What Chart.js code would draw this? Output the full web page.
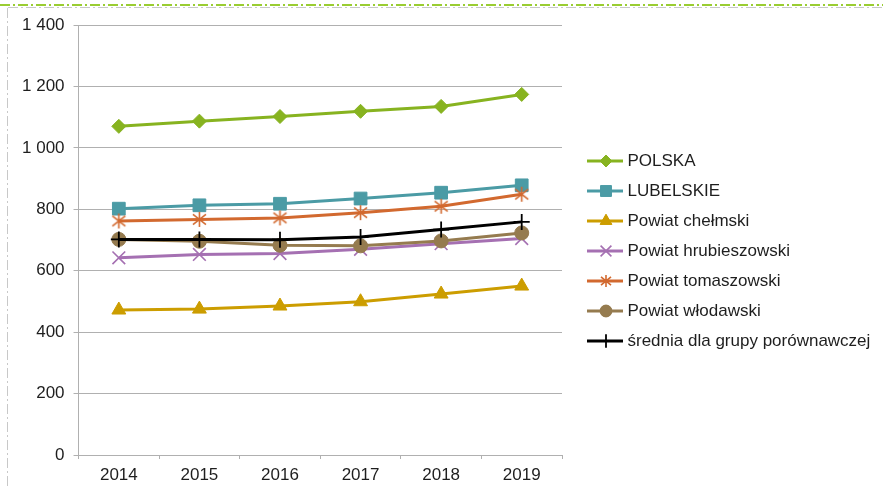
<!DOCTYPE html>
<html>
<head>
<meta charset="utf-8">
<script src="https://cdn.jsdelivr.net/npm/chart.js@4/dist/chart.umd.min.js"></script>
<style>
  html, body { margin: 0; padding: 0; background: #fff; }
  #wrap { width: 883px; height: 486px; position: relative; }
</style>
</head>
<body>
<div id="wrap"><canvas id="line_chart"></canvas></div>
<script>
const years = ["2014", "2015", "2016", "2017", "2018", "2019"];
const yTicks = [0, 200, 400, 600, 800, 1000, 1200, 1400];

const polska = [1070, 1087, 1102, 1119, 1135, 1174];
const lubelskie = [802, 813, 818, 835, 854, 878];
const chelmski = [472, 475, 485, 499, 524, 550];
const hrubieszowski = [642, 653, 656, 670, 688, 705];
const tomaszowski = [762, 767, 772, 789, 810, 849];
const wlodawski = [702, 696, 683, 681, 697, 723];
const srednia = [702, 702, 701, 710, 734, 759];

const textColor = "#1e1e1e";
const gridColor = "#b0b0b0";

// asterisk marker (X with a vertical bar), not available as a built-in style
function asterisk(color, size) {
  const c = document.createElement("canvas");
  c.width = size; c.height = size;
  const g = c.getContext("2d");
  const m = size / 2, e = size - 1;
  g.strokeStyle = color;
  g.lineWidth = 1.6;
  g.beginPath();
  g.moveTo(m, 1); g.lineTo(m, e);
  g.moveTo(2, size * 0.2); g.lineTo(e - 1, size * 0.8);
  g.moveTo(e - 1, size * 0.2); g.lineTo(2, size * 0.8);
  g.stroke();
  return c;
}

const series = [
  { label: "POLSKA", data: polska, color: "#87b320", style: "rectRot", r: 7, bw: 1 },
  { label: "LUBELSKIE", data: lubelskie, color: "#4b9ba5", style: "rect", r: 9, bw: 1 },
  { label: "Powiat chełmski", data: chelmski, color: "#cc9d00", style: "triangle", r: 8, bw: 1 },
  { label: "Powiat hrubieszowski", data: hrubieszowski, color: "#a570b2", style: "crossRot", r: 9, bw: 1.6 },
  { label: "Powiat tomaszowski", data: tomaszowski, color: "#d2692f", style: asterisk("#d2692f", 17), legendStyle: asterisk("#d2692f", 14), r: 8, bw: 1 },
  { label: "Powiat włodawski", data: wlodawski, color: "#957b4f", style: "circle", r: 7, bw: 1 },
  { label: "średnia dla grupy porównawczej", data: srednia, color: "#000000", style: "cross", r: 8, bw: 1.8 },
];

// legend swatch: short line with the marker on it
function swatch(s) {
  const c = document.createElement("canvas");
  c.width = 52; c.height = 18;
  const g = c.getContext("2d");
  g.strokeStyle = s.color;
  g.lineWidth = 3;
  g.beginPath();
  g.moveTo(16, 9); g.lineTo(52, 9);
  g.stroke();
  g.fillStyle = s.color;
  g.strokeStyle = s.color;
  g.lineWidth = s.bw;
  const style = s.legendStyle || s.style;
  Chart.helpers.drawPoint(g, { pointStyle: style, radius: s.r * 0.85, rotation: 0, borderWidth: s.bw }, 35, 9);
  if (typeof style === "string" && style !== "cross" && style !== "crossRot") g.fill();
  return c;
}

const frame = {
  id: "frame",
  afterLayout(chart) {
    // lift the legend block a little
    if (chart.legend) chart.legend.bottom -= 9;
  },
  beforeDraw(chart) {
    const ctx = chart.ctx;
    ctx.save();
    ctx.fillStyle = "#fff";
    ctx.fillRect(0, 0, chart.width, chart.height);
    ctx.setLineDash([10, 3, 2, 3]);
    ctx.strokeStyle = "#c8c8c8";
    ctx.lineWidth = 1;
    ctx.beginPath();
    ctx.moveTo(8, 7.5); ctx.lineTo(chart.width, 7.5);
    ctx.moveTo(7.5, 8); ctx.lineTo(7.5, chart.height);
    ctx.stroke();
    ctx.strokeStyle = "#9acd32";
    ctx.lineWidth = 2;
    ctx.beginPath();
    ctx.moveTo(0, 5); ctx.lineTo(chart.width, 5);
    ctx.stroke();
    ctx.restore();
  },
};

Chart.defaults.font.family = "Arial, 'Liberation Sans', sans-serif";
Chart.defaults.font.size = 17;
Chart.defaults.color = textColor;

new Chart(document.getElementById("line_chart"), {
  type: "line",
  data: {
    labels: years,
    datasets: series.map((s, i) => ({
      label: s.label,
      data: s.data,
      order: series.length - i,
      borderColor: s.color,
      backgroundColor: s.color,
      borderWidth: 3,
      tension: 0,
      pointStyle: s.style,
      pointRadius: s.r,
      pointHoverRadius: s.r,
      pointBackgroundColor: s.color,
      pointBorderColor: s.color,
      pointBorderWidth: s.bw,
    })),
  },
  options: {
    responsive: true,
    maintainAspectRatio: false,
    animation: false,
    layout: { padding: { top: 25, right: 4, bottom: 0, left: 13 } },
    scales: {
      x: {
        offset: true,
        grid: { offset: true, drawOnChartArea: false, drawTicks: true, tickLength: 4, color: gridColor },
        border: { color: gridColor },
        ticks: { padding: 1, font: { lineHeight: 1.8 } },
        afterFit: (axis) => { axis.height = 31; },
      },
      y: {
        min: 0,
        max: 1400,
        afterBuildTicks: (axis) => { axis.ticks = yTicks.map((v) => ({ value: v })); },
        grid: { color: gridColor, tickLength: 5 },
        border: { color: gridColor },
        ticks: {
          padding: 9,
          callback: (v) => String(v).replace(/\B(?=(\d{3})+(?!\d))/g, " "),
        },
      },
    },
    plugins: {
      tooltip: { enabled: false },
      legend: {
        position: "right",
        maxWidth: 317,
        labels: {
          usePointStyle: true,
          pointStyleWidth: 44,
          padding: 13,
          color: textColor,
          generateLabels: () => series.map((s, i) => ({
            text: s.label,
            pointStyle: swatch(s),
            fillStyle: s.color,
            strokeStyle: s.color,
            lineWidth: 0,
            datasetIndex: i,
            fontColor: textColor,
          })),
        },
      },
    },
  },
  plugins: [frame],
});
</script>
</body>
</html>
